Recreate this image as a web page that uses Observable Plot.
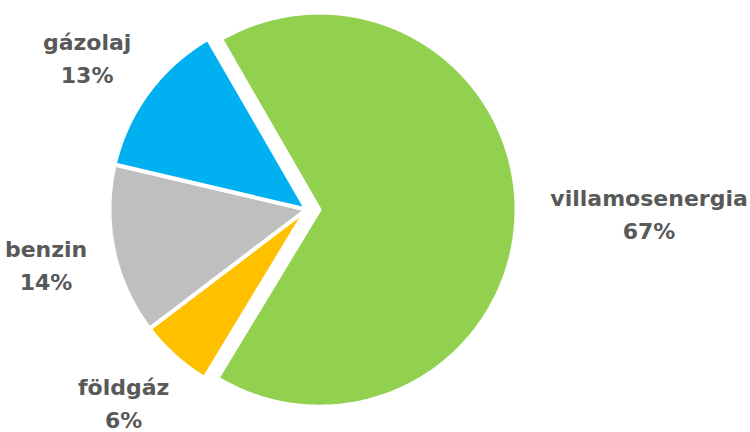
<!DOCTYPE html>
<html><head><meta charset="utf-8">
<script src="https://cdn.jsdelivr.net/npm/d3@7"></script>
<script src="https://cdn.jsdelivr.net/npm/@observablehq/plot@0.6"></script>
<style>body{margin:0;background:#fff}</style>
</head><body><div id="chart"></div>
<script>
const categories = ["villamosenergia", "földgáz", "benzin", "gázolaj"];
const values = [67, 6, 14, 13];
const colors = ["#92D050", "#FFC000", "#BFBFBF", "#00B0F0"];
const explodedCategory = "villamosenergia";

const W = 750, H = 432, R = 197, cx = 306, cy = 209;
const fontSize = 22;
const data = categories.map((c, i) => ({category: c, value: values[i], color: colors[i]}));
const pie = d3.pie().sort(null).value(d => d.value)
  .startAngle(-30 * Math.PI / 180).endAngle(330 * Math.PI / 180);
const arcs = pie(data);
const explode = 13 / R;

const slices = arcs.map(a => {
  const mid = (a.startAngle + a.endAngle) / 2;
  const off = a.data.category === explodedCategory ? explode : 0;
  const ox = off * Math.sin(mid), oy = off * Math.cos(mid);
  const pts = [{x: ox, y: oy}];
  const n = Math.max(2, Math.ceil((a.endAngle - a.startAngle) / (Math.PI / 360)));
  for (let k = 0; k <= n; k++) {
    const t = a.startAngle + (a.endAngle - a.startAngle) * k / n;
    pts.push({x: ox + Math.sin(t), y: oy + Math.cos(t)});
  }
  pts.push({x: ox, y: oy});
  return {a, pts, mid, ox, oy};
});

const labels = slices.map(s => {
  const ux = Math.sin(s.mid), uy = Math.cos(s.mid);
  const rr = 1 + 27 / R;
  const ax = s.ox + ux * rr, ay = s.oy + uy * rr;
  const w = s.a.data.category.length * fontSize * 0.32 / R;
  const h = 34 / R;
  return {x: ax + ux * w, y: ay + uy * h, text: `${s.a.data.category}\n${s.a.data.value}%`};
});

const chart = Plot.plot({
  width: W, height: H, margin: 0,
  x: {domain: [-cx / R, (W - cx) / R], axis: null},
  y: {domain: [-(H - cy) / R, cy / R], axis: null},
  marks: [
    ...slices.map(s => Plot.line(s.pts, {x: "x", y: "y", fill: s.a.data.color, stroke: "white", strokeWidth: 4, strokeLinejoin: "miter"})),
    Plot.text(labels, {x: "x", y: "y", text: "text", fontSize: fontSize, fontWeight: "bold", fill: "#595959", lineHeight: 1.5, fontFamily: "DejaVu Sans"})
  ]
});
document.getElementById("chart").appendChild(chart);
</script>
</body></html>
